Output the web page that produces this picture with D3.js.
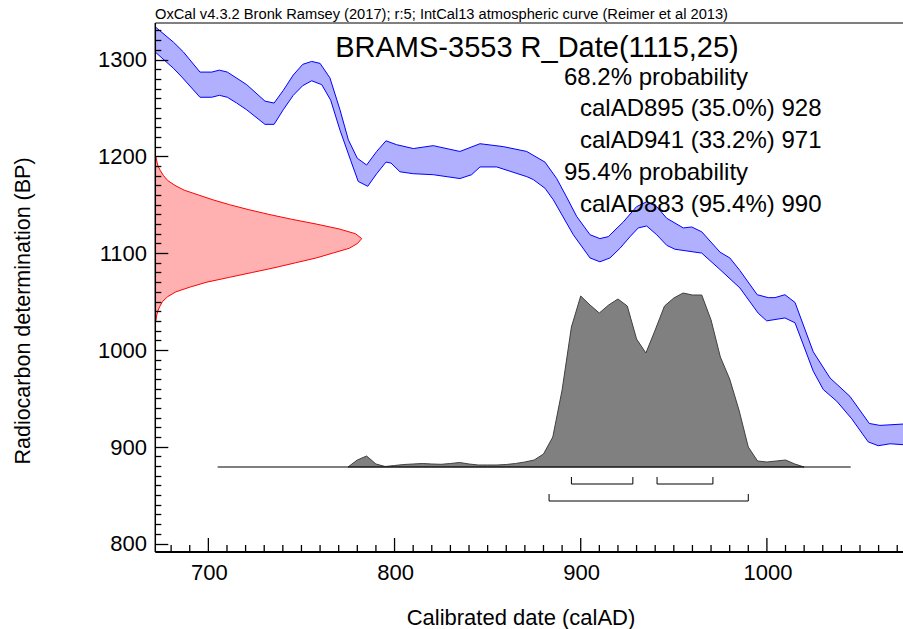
<!DOCTYPE html>
<html>
<head>
<meta charset="utf-8">
<script src="https://cdn.jsdelivr.net/npm/d3@7"></script>
<style>
  body { margin: 0; background: #fff; }
  svg { display: block; font-family: "Liberation Sans", Arial, sans-serif; }
</style>
</head>
<body>
<svg id="chart" width="903" height="629"></svg>
<script>
// calibration curve band (calAD, BP), upper and lower edge
var curveUpper = [[671.3,1334],[681.2,1318],[686.5,1308],[695.5,1287],[701.8,1287],[705.9,1289],[710.2,1287],[720.6,1274],[730.4,1257],[735.3,1255],[740.2,1268],[745.6,1284],[750.7,1295],[755.5,1298],[760,1296],[765.3,1281],[770.7,1248],[775.2,1217],[780,1198],[785,1191],[790.4,1205],[795.4,1216],[801.1,1212],[810.1,1208],[820.8,1211],[835.1,1205],[845.9,1213],[858.4,1210],[871,1205],[880.8,1194],[887.1,1177],[892.4,1158],[897.8,1138],[905,1119],[910.3,1115],[914.8,1117],[922.8,1132],[930,1148],[935.4,1153],[940.8,1148],[946.2,1136],[955.1,1126],[959.6,1127],[965,1122],[974.8,1101],[980.1,1095],[985.5,1082],[994.8,1057],[1000.7,1054],[1004.3,1054],[1009.7,1057],[1015.1,1049],[1024.9,998],[1033.9,971],[1044.6,952],[1055,924],[1060.7,922],[1074,923.5]];
var curveLower = [[671.3,1308],[681.2,1291],[685.7,1282],[695.5,1261],[701.8,1261],[705.9,1263],[710.2,1261],[715.2,1255],[720.6,1248],[730.4,1233],[735.3,1233],[740.2,1248],[745.6,1263],[750.7,1273],[755.5,1278],[760.9,1274],[765.7,1258],[770.7,1227],[776.4,1196],[780.5,1174],[785.6,1169],[790.4,1182],[795.4,1194],[798.1,1193],[802.9,1184],[810.1,1182],[820.8,1181],[835.1,1177],[841.4,1181],[845.9,1189],[854.9,1189],[871,1179],[874.5,1176],[880.8,1167],[885.3,1155],[896,1119],[905,1095],[910.3,1091],[915.7,1095],[921.1,1105],[926.5,1117],[930.9,1126],[935.4,1128],[940.8,1119],[946.2,1108],[950.6,1104],[965,1100],[974.8,1083],[985.5,1064],[995.3,1038],[999.9,1030],[1009.7,1033],[1015.1,1028],[1024.9,978],[1030.3,959],[1037.5,947],[1045.5,929],[1054.4,905],[1059.8,901],[1066.1,903],[1074,902]];

// radiocarbon date R_Date(1115,25), relative density
var dateBP = [1200,1195,1190,1185,1180,1175,1170,1165,1160,1155,1150,1145,1140,1135,1130,1125,1120,1115,1110,1105,1100,1095,1090,1085,1080,1075,1070,1065,1060,1055,1050,1045,1040,1035,1030];
var dateDensity = [0.003,0.007,0.013,0.025,0.04,0.06,0.095,0.14,0.21,0.28,0.36,0.45,0.55,0.66,0.78,0.89,0.97,1,0.98,0.94,0.86,0.78,0.68,0.58,0.47,0.36,0.25,0.17,0.1,0.06,0.035,0.022,0.012,0.006,0.003];

// calibrated distribution
var calYears = [775,780,785,790,795,800,805,810,815,820,825,830,835,840,845,850,855,860,865,870,875,880,885,890,895,900,905,910,915,920,925,930,935,940,945,950,955,960,965,970,975,980,985,990,995,1000,1005,1010,1015,1020];
var calProb = [0,7,11,3,0.5,1.5,2.5,3,3.5,3,2.7,3.5,4.5,3,2,2,2,2.5,3.5,5,7,13,30,77,140,171,162,154,162,168,161,128,114,137,161,169,174,172,172,147,110,88,57,20,6,5,6,7,3,0];
var calBaseline = [705, 1045];

var ranges68 = [[895,928],[941,971]];
var ranges95 = [[883,990]];

var xTicks = [700,800,900,1000];
var yTicks = [800,900,1000,1100,1200,1300];

var noteText = 'OxCal v4.3.2 Bronk Ramsey (2017); r:5; IntCal13 atmospheric curve (Reimer et al 2013)';
var titleText = 'BRAMS-3553 R_Date(1115,25)';
var probLines = [
  ['68.2% probability', 0],
  ['calAD895 (35.0%) 928', 1],
  ['calAD941 (33.2%) 971', 1],
  ['95.4% probability', 0],
  ['calAD883 (95.4%) 990', 1]
];

(function() {
  var svg = d3.select('#chart');
  var plotL = 155.3, plotR = 903, plotT = 23, plotB = 552;

  var x = d3.scaleLinear().domain([671.5, 1073.1]).range([plotL, plotR]);
  var y = d3.scaleLinear().domain([1300, 800]).range([59.5, 543.5]);

  svg.append('clipPath').attr('id', 'plotClip')
    .append('rect')
    .attr('x', plotL).attr('y', plotT)
    .attr('width', plotR - plotL).attr('height', plotB - plotT);

  var plot = svg.append('g').attr('clip-path', 'url(#plotClip)');

  // calibration curve band
  var band = curveUpper.concat(curveLower.slice().reverse());
  plot.append('path')
    .attr('d', d3.line().x(function(d){ return x(d[0]); }).y(function(d){ return y(d[1]); })(band) + 'Z')
    .attr('fill', '#b0b0ff')
    .attr('stroke', '#0000ff')
    .attr('stroke-width', 1);

  // radiocarbon date on the y axis
  var dens = d3.scaleLinear().domain([0, 1]).range([plotL, 361.7]);
  plot.append('path')
    .datum(d3.zip(dateBP, dateDensity))
    .attr('d', d3.area()
      .y(function(d){ return y(d[0]); })
      .x0(dens(0))
      .x1(function(d){ return dens(d[1]); }))
    .attr('fill', '#ffb0b0')
    .attr('stroke', '#ff0000')
    .attr('stroke-width', 1);

  // calibrated distribution
  var baseY = 467;
  var prob = d3.scaleLinear().domain([0, 174]).range([baseY, baseY - 174]);
  plot.append('path')
    .datum(d3.zip(calYears, calProb))
    .attr('d', d3.area()
      .x(function(d){ return x(d[0]); })
      .y0(baseY)
      .y1(function(d){ return prob(d[1]); }))
    .attr('fill', '#808080')
    .attr('stroke', '#404040')
    .attr('stroke-width', 1);

  plot.append('line')
    .attr('x1', x(calBaseline[0])).attr('x2', x(calBaseline[1]))
    .attr('y1', baseY).attr('y2', baseY)
    .attr('stroke', '#000').attr('stroke-width', 1.2);

  // range brackets
  function brackets(ranges, yy) {
    ranges.forEach(function(r) {
      var x0 = x(r[0]), x1 = x(r[1]);
      plot.append('path')
        .attr('d', 'M' + x0 + ',' + (yy - 7) + 'V' + yy + 'H' + x1 + 'V' + (yy - 7))
        .attr('fill', 'none')
        .attr('stroke', '#000')
        .attr('stroke-width', 1);
    });
  }
  brackets(ranges68, baseY + 17);
  brackets(ranges95, baseY + 34);

  // ticks: minor every 10, major every 100
  var yTickVals = d3.range(800, 1340, 10);
  var xTickVals = d3.range(680, 1080, 10);

  svg.append('g').selectAll('line').data(yTickVals).enter().append('line')
    .attr('x1', plotL)
    .attr('x2', function(d){ return plotL + (d % 100 === 0 ? 13 : 6); })
    .attr('y1', function(d){ return Math.round(y(d)) + 0.5; })
    .attr('y2', function(d){ return Math.round(y(d)) + 0.5; })
    .attr('stroke', '#000').attr('stroke-width', 1.3);

  svg.append('g').selectAll('line').data(xTickVals).enter().append('line')
    .attr('x1', function(d){ return x(d); })
    .attr('x2', function(d){ return x(d); })
    .attr('y1', plotB)
    .attr('y2', function(d){ return plotB - (d % 100 === 0 ? 14 : 7); })
    .attr('stroke', '#000').attr('stroke-width', 1.3);

  // frame lines
  svg.append('line').attr('x1', plotL).attr('x2', plotL).attr('y1', plotT).attr('y2', plotB)
    .attr('stroke', '#000').attr('stroke-width', 1.5);
  svg.append('line').attr('x1', plotL).attr('x2', plotR).attr('y1', plotB).attr('y2', plotB)
    .attr('stroke', '#000').attr('stroke-width', 1.8);
  svg.append('line').attr('x1', plotL).attr('x2', plotR).attr('y1', plotT).attr('y2', plotT)
    .attr('stroke', '#000').attr('stroke-width', 1);

  // tick labels
  svg.append('g').selectAll('text').data(yTicks).enter().append('text')
    .attr('x', 147).attr('y', function(d){ return y(d); })
    .attr('dy', '0.36em')
    .attr('text-anchor', 'end')
    .attr('font-size', 22)
    .text(function(d){ return d; });

  svg.append('g').selectAll('text').data(xTicks).enter().append('text')
    .attr('x', function(d){ return x(d) + 1; }).attr('y', 580)
    .attr('text-anchor', 'middle')
    .attr('font-size', 22)
    .text(function(d){ return d; });

  // axis titles
  svg.append('text')
    .attr('x', 521).attr('y', 625)
    .attr('text-anchor', 'middle')
    .attr('font-size', 22)
    .text('Calibrated date (calAD)');

  svg.append('text')
    .attr('transform', 'translate(30,311) rotate(-90)')
    .attr('text-anchor', 'middle')
    .attr('font-size', 21.5)
    .text('Radiocarbon determination (BP)');

  // header texts
  svg.append('text')
    .attr('x', 155).attr('y', 19)
    .attr('font-size', 14)
    .attr('textLength', 573)
    .attr('lengthAdjust', 'spacingAndGlyphs')
    .text(noteText);

  svg.append('text')
    .attr('x', 537).attr('y', 57)
    .attr('text-anchor', 'middle')
    .attr('font-size', 29)
    .text(titleText);

  var lineY = [85, 116, 148, 180, 212];
  svg.append('g').selectAll('text').data(probLines).enter().append('text')
    .attr('x', function(d){ return d[1] ? 580 : 564; })
    .attr('y', function(d, i){ return lineY[i]; })
    .attr('font-size', 24)
    .text(function(d){ return d[0]; });
})();
</script>
</body>
</html>
